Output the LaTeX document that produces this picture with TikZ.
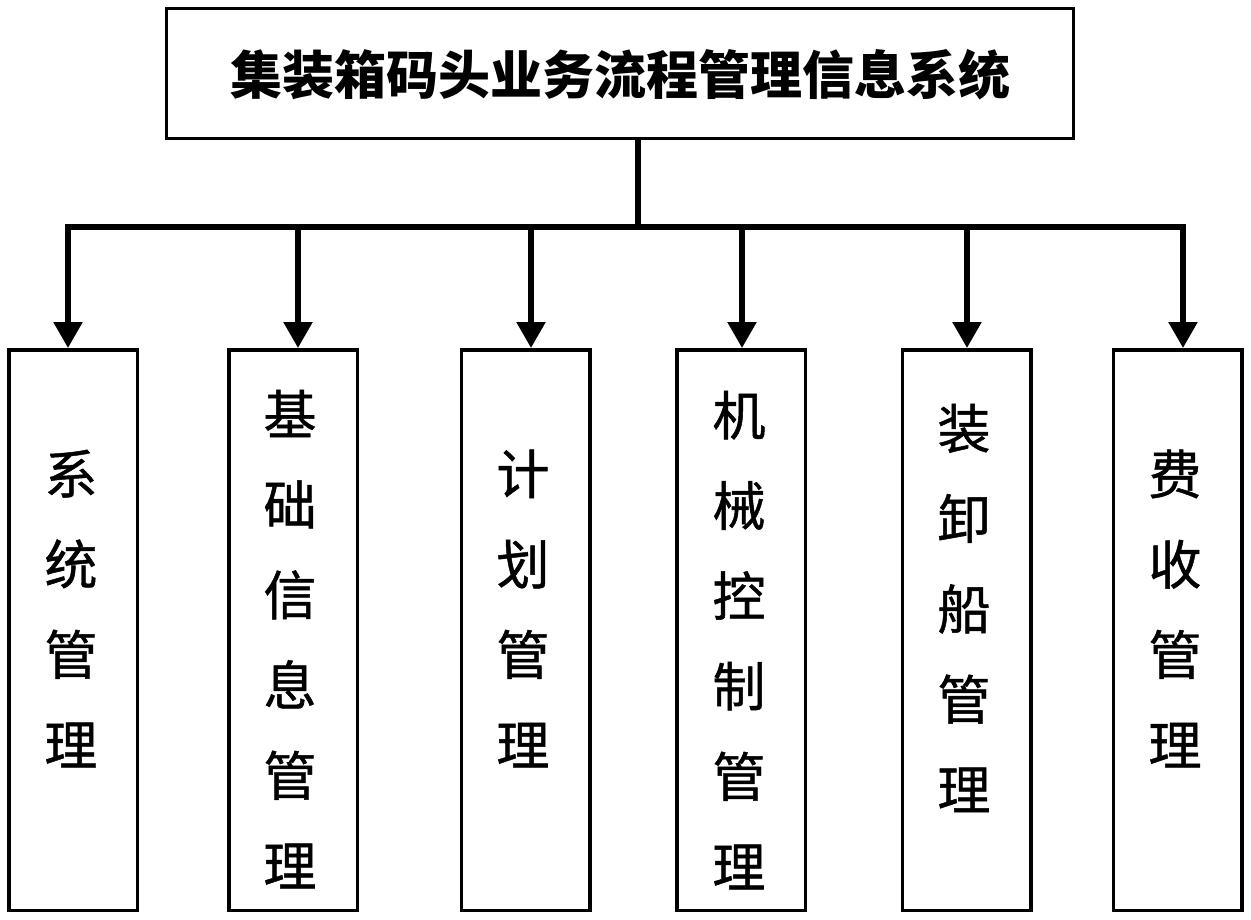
\documentclass[tikz,border=0pt]{standalone}
\usepackage{fontspec}
\newfontfamily\cjk{Noto Sans CJK SC}
\newfontfamily\cjkm[FakeBold=0.9]{Noto Sans CJK SC}
\usetikzlibrary{arrows.meta}
\begin{document}
\begin{tikzpicture}[x=1pt,y=-1pt,
  box/.style={draw,line width=3.5pt,inner sep=0pt,minimum width=128.5pt,minimum height=560.5pt},
  topbox/.style={draw,line width=3.2pt,inner sep=0pt,minimum width=906.5pt,minimum height=129.5pt},
  vtext/.style={inner sep=0pt,align=center,font=\cjkm\fontsize{53}{90.3}\selectfont},
  ttext/.style={inner sep=0pt,font=\cjk\bfseries\fontsize{52}{58}\selectfont},
  conn/.style={line width=5.5pt},
  arr/.style={line width=5.5pt,-{Triangle[width=28pt,length=26pt]}}]
\useasboundingbox (0,0) rectangle (1251,919);
% top box
\node[topbox] (top) at (620,73.5) {};
\node[ttext] (title) at (620,75) {集装箱码头业务流程管理信息系统};
% lower boxes
\node[box] (b1) at (73,630) {};
\node[box] (b2) at (293,630) {};
\node[box] (b3) at (525.5,630) {};
\node[box] (b4) at (741,630) {};
\node[box] (b5) at (966.5,630) {};
\node[box] (b6) at (1177.5,630) {};
% texts
\node[vtext] (t1) at (71,608.5) {系\\统\\管\\理};
\node[vtext] (t2) at (290,639) {基\\础\\信\\息\\管\\理};
\node[vtext] (t3) at (523,608.5) {计\\划\\管\\理};
\node[vtext] (t4) at (739,640) {机\\械\\控\\制\\管\\理};
\node[vtext] (t5) at (964,608) {装\\卸\\船\\管\\理};
\node[vtext] (t6) at (1175,608.5) {费\\收\\管\\理};
% connectors
\coordinate (hub) at (638,227);
\coordinate (j1) at (68,227);
\coordinate (j2) at (298,227);
\coordinate (j3) at (531,227);
\coordinate (j4) at (742,227);
\coordinate (j5) at (967,227);
\coordinate (j6) at (1183,227);
\draw[conn,line cap=rect] (top.south -| hub) -- (hub);
\draw[conn,line cap=rect] (j1) -- (j6);
\draw[arr] (j1) -- (j1 |- b1.north);
\draw[arr] (j2) -- (j2 |- b2.north);
\draw[arr] (j3) -- (j3 |- b3.north);
\draw[arr] (j4) -- (j4 |- b4.north);
\draw[arr] (j5) -- (j5 |- b5.north);
\draw[arr] (j6) -- (j6 |- b6.north);
\end{tikzpicture}
\end{document}
